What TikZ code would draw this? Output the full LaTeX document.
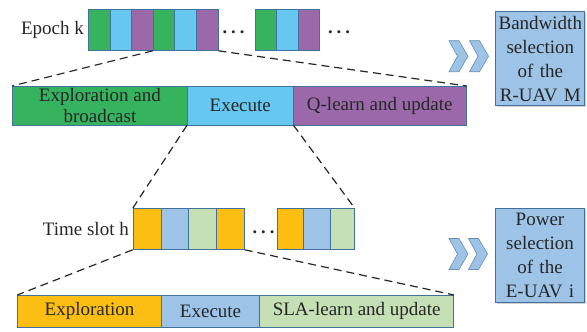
\documentclass[tikz,border=0pt]{standalone}
\usepackage{fontspec}
\setmainfont{Liberation Serif}
\usetikzlibrary{shadows}
\definecolor{cgreen}{HTML}{35B35E}
\definecolor{cblue}{HTML}{66C8F0}
\definecolor{cpurple}{HTML}{9B69AA}
\definecolor{corange}{HTML}{FDBE14}
\definecolor{clblue}{HTML}{9DC3E6}
\definecolor{clgreen}{HTML}{C5E0B4}
\definecolor{cborder}{HTML}{41719C}
\definecolor{ctext}{HTML}{262626}
\begin{document}
\begin{tikzpicture}[x=1pt,y=-1pt,
  txt/.style={text=ctext, font=\rmfamily\fontsize{19}{21}\selectfont, inner sep=0pt},
  blk/.style={draw=cborder, line width=0.8pt, inner sep=0pt, anchor=north west, txt},
  dots/.style={text=ctext, font=\rmfamily\bfseries\fontsize{18.5}{21}\selectfont, inner sep=0pt},
  zl/.style={dash pattern=on 8pt off 5pt, line width=1.2pt, black!85},
  rbox/.style={draw=cborder, line width=0.8pt, fill=clblue, txt, align=center,
    minimum width=89pt, minimum height=94pt, text width=87pt,
    font=\rmfamily\fontsize{19}{24}\selectfont,
    drop shadow={shadow xshift=1.5pt, shadow yshift=-1.5pt, opacity=0.35}},
  chevstyle/.style={fill=clblue, draw=cborder!80, line width=0.6pt},
  chev/.pic={\path[chevstyle] (0,0) -- (10,0) -- (19,15.5) -- (10,31) -- (0,31) -- (8.5,15.5) -- cycle;}
]
\useasboundingbox (0,0) rectangle (587,332);

% Row 1: epoch k
\node[txt, anchor=east] (ek) at (84,30) {Epoch k};
\node[blk, fill=cgreen,  minimum width=21.6pt, minimum height=40.7pt] (a1) at (88,9.3) {};
\node[blk, fill=cblue,   minimum width=21.6pt, minimum height=40.7pt] (a2) at (109.6,9.3) {};
\node[blk, fill=cpurple, minimum width=21.6pt, minimum height=40.7pt] (a3) at (131.2,9.3) {};
\node[blk, fill=cgreen,  minimum width=21.6pt, minimum height=40.7pt] (a4) at (152.8,9.3) {};
\node[blk, fill=cblue,   minimum width=21.6pt, minimum height=40.7pt] (a5) at (174.4,9.3) {};
\node[blk, fill=cpurple, minimum width=21.6pt, minimum height=40.7pt] (a6) at (196,9.3) {};
\node[dots, anchor=base] (d1) at (233.5,34) {.\hspace{4pt}.\hspace{4pt}.};
\node[blk, fill=cgreen,  minimum width=21.6pt, minimum height=40.7pt] (a7) at (254.5,9.3) {};
\node[blk, fill=cblue,   minimum width=21.6pt, minimum height=40.7pt] (a8) at (276.1,9.3) {};
\node[blk, fill=cpurple, minimum width=21.6pt, minimum height=40.7pt] (a9) at (297.7,9.3) {};
\node[dots, anchor=base] (d2) at (339,34) {.\hspace{4pt}.\hspace{4pt}.};

% Row 2
\node[blk, fill=cgreen, minimum width=175pt, minimum height=38.5pt, align=center] (b1) at (12,86) {Exploration and\\broadcast};
\node[blk, fill=cblue, minimum width=105.7pt, minimum height=38.5pt] (b2) at (187,86) {Execute};
\node[blk, fill=cpurple, minimum width=173.3pt, minimum height=38.5pt] (b3) at (292.7,86) {Q-learn and update};

% Row 3: time slot h
\node[txt, anchor=east] (th) at (129,229) {Time slot h};
\node[blk, fill=corange, minimum width=27.8pt, minimum height=40.7pt] (c1) at (132.7,208.3) {};
\node[blk, fill=clblue,  minimum width=27.8pt, minimum height=40.7pt] (c2) at (160.5,208.3) {};
\node[blk, fill=clgreen, minimum width=27.8pt, minimum height=40.7pt] (c3) at (188.3,208.3) {};
\node[blk, fill=corange, minimum width=27.8pt, minimum height=40.7pt] (c4) at (216.1,208.3) {};
\node[dots, anchor=base] (d3) at (263.5,233) {.\hspace{4pt}.\hspace{4pt}.};
\node[blk, fill=corange, minimum width=25.7pt, minimum height=40.7pt] (c5) at (277,208.3) {};
\node[blk, fill=clblue,  minimum width=27.3pt, minimum height=40.7pt] (c6) at (302.7,208.3) {};
\node[blk, fill=clgreen, minimum width=24pt,   minimum height=40.7pt] (c7) at (330,208.3) {};

% Row 4
\node[blk, fill=corange, minimum width=143.7pt, minimum height=31.7pt] (f1) at (17.3,295) {Exploration};
\node[blk, fill=clblue,  minimum width=98.3pt,  minimum height=31.7pt] (f2) at (161,295) {Execute};
\node[blk, fill=clgreen, minimum width=194pt,   minimum height=31.7pt] (f3) at (259.3,295) {SLA-learn and update};

% zoom lines
\draw[zl] (a4.south west) -- (b1.north west);
\draw[zl] (a6.south east) -- (b3.north east);
\draw[zl] (b2.south west) -- (c1.north west);
\draw[zl] (b2.south east) -- (c7.north east);
\draw[zl] (c1.south west) -- (f1.north west);
\draw[zl] (c4.south east) -- (f3.north east);

% chevrons and right boxes
\pic at (449,40.7) {chev};
\pic at (469.5,40.7) {chev};
\node[rbox] (bw) at (540.3,58.8) {Bandwidth\\selection\\of the\\R-UAV M};
\pic at (449,238.5) {chev};
\pic at (468.5,238.5) {chev};
\node[rbox] (pw) at (540,255) {Power\\selection\\of the\\E-UAV i};
\end{tikzpicture}
\end{document}
